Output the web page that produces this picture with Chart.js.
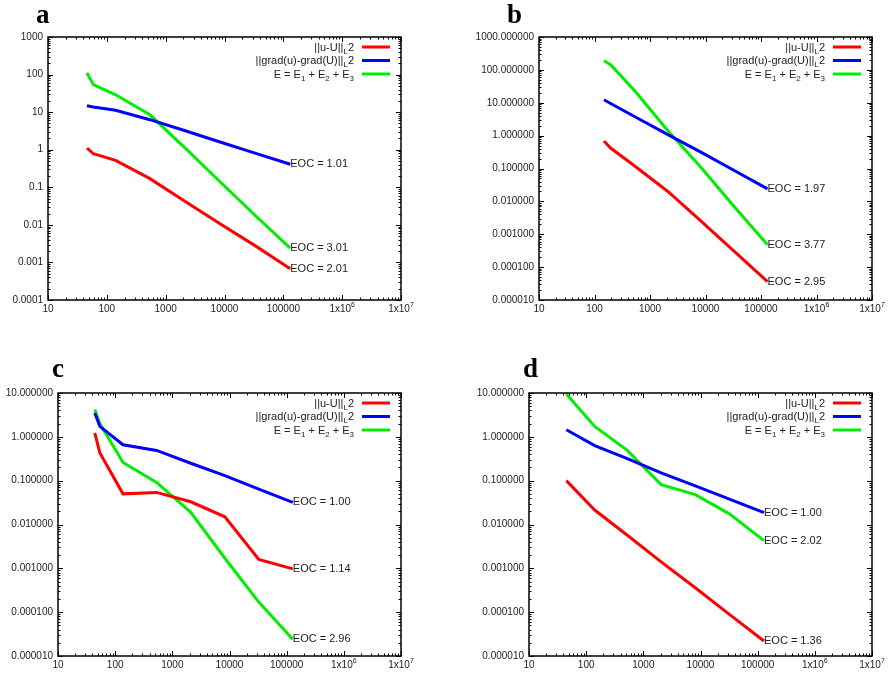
<!DOCTYPE html>
<html>
<head>
<meta charset="utf-8">
<title>EOC</title>
<script src="https://cdn.jsdelivr.net/npm/chart.js@4.4.0/dist/chart.umd.min.js"></script>
<style>
  body { margin: 0; background: #fff; }
  #wrap { position: relative; width: 890px; height: 675px; }
  canvas { position: absolute; }
</style>
</head>
<body>
<div id="wrap">
  <canvas id="pa" width="445" height="330" style="left:0;top:0"></canvas>
  <canvas id="pb" width="445" height="330" style="left:445px;top:0"></canvas>
  <canvas id="pc" width="445" height="345" style="left:0;top:330px"></canvas>
  <canvas id="pd" width="445" height="345" style="left:445px;top:330px"></canvas>
</div>
<script>
// series shared by all four panels
const seriesNames = ['||u-U||_L2', '||grad(u)-grad(U)||_L2', 'E = E_1 + E_2 + E_3'];
const seriesColors = ['#ff0000', '#0000ff', '#00ee00'];

const xTicks = [10, 100, 1000, 10000, 100000, 1e6, 1e7];
const xTickLabels = ['10', '100', '1000', '10000', '100000', '1x10^6', '1x10^7'];

const yTicksA = [0.0001, 0.001, 0.01, 0.1, 1, 10, 100, 1000];
const yLabelsA = ['0.0001', '0.001', '0.01', '0.1', '1', '10', '100', '1000'];
const yTicksB = [0.00001, 0.0001, 0.001, 0.01, 0.1, 1, 10, 100, 1000];
const yLabelsB = ['0.000010', '0.000100', '0.001000', '0.010000', '0.100000', '1.000000', '10.000000', '100.000000', '1000.000000'];
const yTicksCD = [0.00001, 0.0001, 0.001, 0.01, 0.1, 1, 10];
const yLabelsCD = ['0.000010', '0.000100', '0.001000', '0.010000', '0.100000', '1.000000', '10.000000'];

// panel a
const dofA = [46, 59, 141, 540, 2150, 8400, 33000, 131000];
const errL2A = [1.1, 0.78, 0.52, 0.17, 0.042, 0.0107, 0.0028, 0.00068];
const errGradA = [14.8, 13.7, 11.2, 6.3, 3.2, 1.6, 0.81, 0.41];
const estA = [110, 54, 29, 8.5, 1.1, 0.14, 0.018, 0.0024];
const eocA = ['EOC = 2.01', 'EOC = 1.01', 'EOC = 3.01'];

// panel b
const dofB = [148, 195, 545, 2100, 8400, 33000, 131000];
const errL2B = [0.69, 0.42, 0.115, 0.02, 0.00245, 0.0003, 0.000036];
const errGradB = [12.3, 9.5, 3.7, 1.07, 0.31, 0.087, 0.024];
const estB = [190, 144, 22, 1.4, 0.105, 0.0069, 0.00048];
const eocB = ['EOC = 2.95', 'EOC = 1.97', 'EOC = 3.77'];

// panel c
const dofC = [44, 54, 137, 530, 2100, 8300, 32500, 128000];
const errL2C = [1.23, 0.43, 0.05, 0.054, 0.033, 0.015, 0.0016, 0.00097];
const errGradC = [3.5, 1.73, 0.66, 0.49, 0.25, 0.13, 0.064, 0.032];
const estC = [4.2, 2.0, 0.26, 0.091, 0.019, 0.0017, 0.00017, 0.000024];
const eocC = ['EOC = 1.14', 'EOC = 1.00', 'EOC = 2.96'];

// panel d
const dofD = [45, 141, 525, 2050, 8100, 32000, 129000];
const errL2D = [0.1, 0.0214, 0.0057, 0.0014, 0.00036, 0.000089, 0.000022];
const errGradD = [1.45, 0.63, 0.32, 0.15, 0.076, 0.038, 0.0187];
const estD = [9.5, 1.73, 0.49, 0.081, 0.048, 0.0175, 0.0043];
const eocD = ['EOC = 1.36', 'EOC = 1.00', 'EOC = 2.02'];

const TEXT = '#222';
const SANS = '"Liberation Sans", Arial, sans-serif';

// gnuplot style markup: "_x" one subscript char, "^x" one superscript char
function richParts(s) {
    const parts = [];
    let cur = '';
    for (let i = 0; i < s.length; i++) {
        if ((s[i] === '_' || s[i] === '^') && i + 1 < s.length) {
            if (cur) parts.push({ t: cur, shift: 0 });
            parts.push({ t: s[i + 1], shift: s[i] === '_' ? 3 : -5 });
            cur = '';
            i++;
        } else {
            cur += s[i];
        }
    }
    if (cur) parts.push({ t: cur, shift: 0 });
    return parts;
}

// align: 'right' -> x is the right edge, 'center' -> x is the middle
function drawRich(ctx, s, x, yMid, size, align) {
    const parts = richParts(s);
    const fontN = size + 'px ' + SANS, fontS = Math.round(size * 0.72) + 'px ' + SANS;
    let w = 0;
    parts.forEach(p => { ctx.font = p.shift ? fontS : fontN; w += ctx.measureText(p.t).width; });
    let cx = align === 'center' ? x - w / 2 : x - w;
    const base = yMid + size * 0.36;
    ctx.textAlign = 'left';
    ctx.textBaseline = 'alphabetic';
    parts.forEach(p => {
        ctx.font = p.shift ? fontS : fontN;
        ctx.fillText(p.t, cx, base + p.shift);
        cx += ctx.measureText(p.t).width;
    });
}

function logMinors(min, max) {
    const out = [];
    for (let d = min; d < max * 0.999; d *= 10) {
        for (let k = 2; k <= 9; k++) out.push(d * k);
    }
    return out;
}

// gnuplot look: frame, inward ticks on all sides, key, EOC labels, panel letter
const gnuFrame = {
    id: 'gnuFrame',
    afterDraw(chart) {
        const o = chart.options.plugins.gnuFrame;
        const { ctx, chartArea: a } = chart;
        const sx = chart.scales.x, sy = chart.scales.y;
        ctx.save();
        ctx.strokeStyle = '#000';
        ctx.lineWidth = 1;

        const tickX = (v, len) => {
            const px = Math.round(sx.getPixelForValue(v)) + 0.5;
            ctx.beginPath();
            ctx.moveTo(px, a.bottom); ctx.lineTo(px, a.bottom - len);
            ctx.moveTo(px, a.top); ctx.lineTo(px, a.top + len);
            ctx.stroke();
        };
        const tickY = (v, len) => {
            const py = Math.round(sy.getPixelForValue(v)) + 0.5;
            ctx.beginPath();
            ctx.moveTo(a.left, py); ctx.lineTo(a.left + len, py);
            ctx.moveTo(a.right, py); ctx.lineTo(a.right - len, py);
            ctx.stroke();
        };
        xTicks.forEach(v => tickX(v, 5));
        logMinors(xTicks[0], xTicks[xTicks.length - 1]).forEach(v => tickX(v, 2.5));
        o.yTicks.forEach(v => tickY(v, 5));
        logMinors(o.yTicks[0], o.yTicks[o.yTicks.length - 1]).forEach(v => tickY(v, 2.5));

        ctx.lineWidth = 1.5;
        ctx.strokeRect(a.left, a.top, a.right - a.left, a.bottom - a.top);

        // x tick labels (need superscripts)
        ctx.fillStyle = TEXT;
        xTicks.forEach((v, i) => {
            drawRich(ctx, xTickLabels[i], sx.getPixelForValue(v), a.bottom + 8, 10, 'center');
        });

        // key, top right inside the frame
        seriesNames.forEach((name, i) => {
            const yRow = a.top + 10 + i * 13.5;
            ctx.fillStyle = TEXT;
            drawRich(ctx, name, a.right - 47, yRow, 11, 'right');
            ctx.strokeStyle = seriesColors[i];
            ctx.lineWidth = 3;
            ctx.beginPath();
            ctx.moveTo(a.right - 39, yRow);
            ctx.lineTo(a.right - 11, yRow);
            ctx.stroke();
        });

        // EOC labels at the last point of each line
        ctx.font = '11px ' + SANS;
        ctx.textAlign = 'left';
        ctx.textBaseline = 'middle';
        ctx.fillStyle = TEXT;
        o.eoc.forEach((txt, i) => {
            const pts = chart.getDatasetMeta(i).data;
            const last = pts[pts.length - 1];
            ctx.fillText(txt, last.x, last.y);
        });

        // panel letter
        ctx.font = 'bold 27px "Liberation Serif", "Times New Roman", serif';
        ctx.textBaseline = 'alphabetic';
        ctx.fillStyle = '#000';
        ctx.fillText(o.letter, o.letterX, o.letterY);
        ctx.restore();
    }
};

function buildPanel(id, letter, dof, series, eoc, yTicks, yLabels, box) {
    const canvas = document.getElementById(id);
    const W = canvas.width, H = canvas.height;
    return new Chart(canvas, {
        type: 'line',
        data: {
            datasets: series.map((vals, i) => ({
                label: seriesNames[i],
                data: dof.map((x, j) => ({ x: x, y: vals[j] })),
                borderColor: seriesColors[i],
                borderWidth: 3,
                pointRadius: 0,
                tension: 0,
                fill: false
            }))
        },
        options: {
            responsive: false,
            animation: false,
            devicePixelRatio: 1,
            layout: { padding: { left: 0, top: box.top, right: W - box.right, bottom: 0 } },
            plugins: {
                legend: { display: false },
                tooltip: { enabled: false },
                gnuFrame: { letter, letterX: box.letterX, letterY: box.letterY, eoc, yTicks }
            },
            scales: {
                x: {
                    type: 'logarithmic',
                    min: xTicks[0],
                    max: xTicks[xTicks.length - 1],
                    afterBuildTicks: s => { s.ticks = xTicks.map(v => ({ value: v })); },
                    afterFit: s => { s.height = H - box.bottom; },
                    grid: { display: false, drawTicks: false },
                    border: { display: false },
                    ticks: { display: false }
                },
                y: {
                    type: 'logarithmic',
                    min: yTicks[0],
                    max: yTicks[yTicks.length - 1],
                    afterBuildTicks: s => { s.ticks = yTicks.map(v => ({ value: v })); },
                    afterFit: s => { s.width = box.left; },
                    grid: { display: false, drawTicks: false },
                    border: { display: false },
                    ticks: {
                        autoSkip: false, padding: 5,
                        color: TEXT, font: { family: SANS, size: 10 },
                        callback: (v, i) => yLabels[i]
                    }
                }
            }
        },
        plugins: [gnuFrame]
    });
}

buildPanel('pa', 'a', dofA, [errL2A, errGradA, estA], eocA, yTicksA, yLabelsA,
    { left: 48, top: 37, right: 401, bottom: 300, letterX: 36, letterY: 23 });
buildPanel('pb', 'b', dofB, [errL2B, errGradB, estB], eocB, yTicksB, yLabelsB,
    { left: 94, top: 37, right: 427, bottom: 300, letterX: 62, letterY: 23 });
buildPanel('pc', 'c', dofC, [errL2C, errGradC, estC], eocC, yTicksCD, yLabelsCD,
    { left: 58, top: 63, right: 401, bottom: 326, letterX: 52, letterY: 47 });
buildPanel('pd', 'd', dofD, [errL2D, errGradD, estD], eocD, yTicksCD, yLabelsCD,
    { left: 84, top: 63, right: 427, bottom: 326, letterX: 78, letterY: 47 });
</script>
</body>
</html>
